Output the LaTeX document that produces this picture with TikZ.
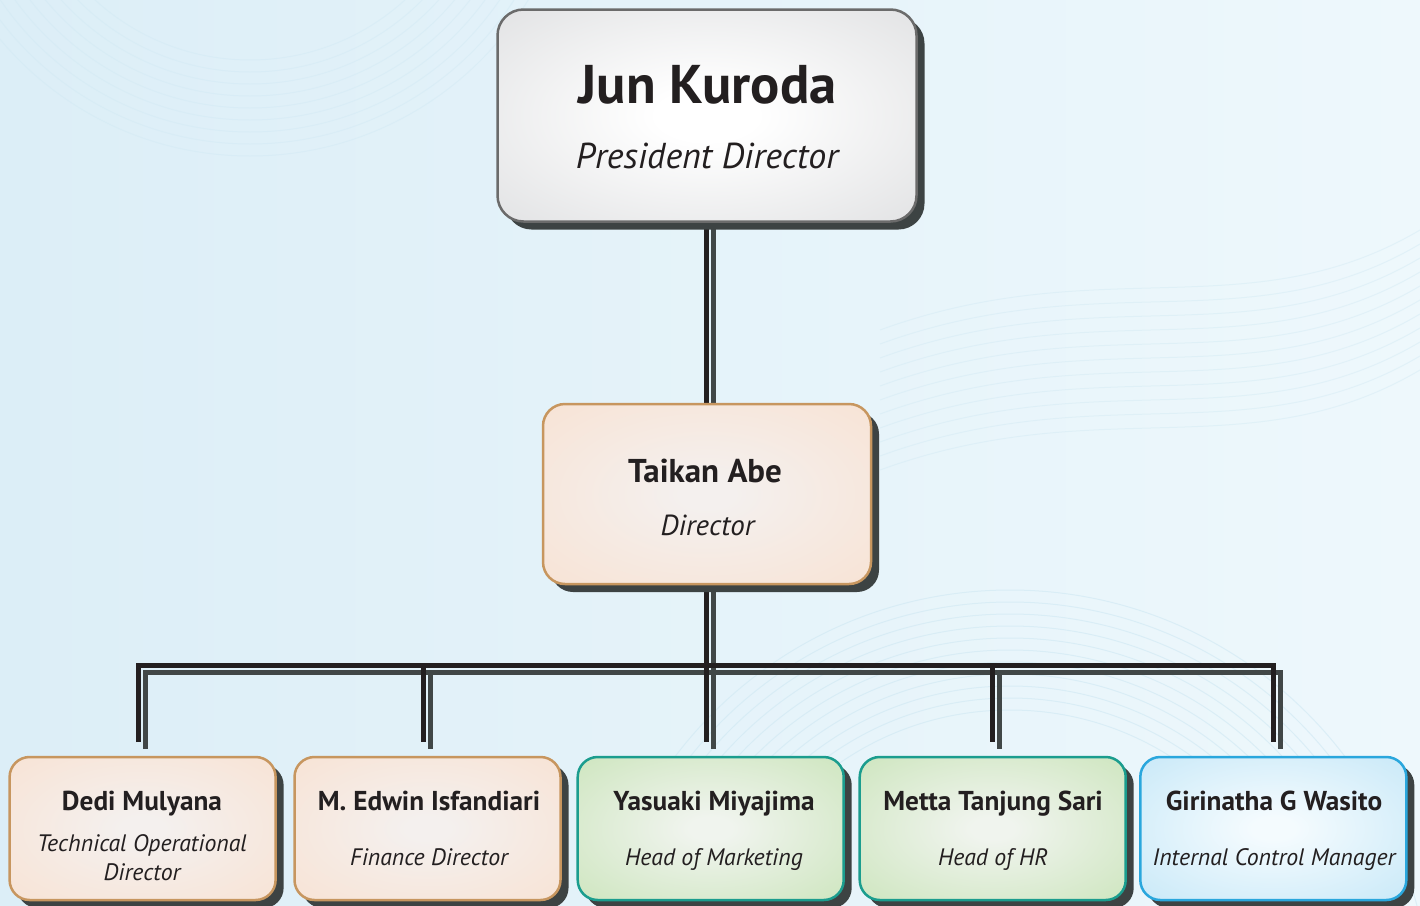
\documentclass[tikz,border=0pt]{standalone}
\usepackage{fontspec}
\setmainfont{PT Sans}
\usetikzlibrary{shadows}
\definecolor{bgL}{HTML}{DCEEF7}
\definecolor{bgR}{HTML}{EEF8FC}
\definecolor{bgline}{HTML}{CFE8F3}
\definecolor{txt}{HTML}{231F20}
\definecolor{shadowc}{HTML}{3D4343}
\definecolor{lineblack}{HTML}{231F20}
\definecolor{lineshadow}{HTML}{414747}
\definecolor{presOuter}{HTML}{D6D7D9}
\definecolor{presBorder}{HTML}{6B6B6B}
\definecolor{peachInner}{HTML}{F4F0EE}
\definecolor{peachOuter}{HTML}{F9DFCD}
\definecolor{peachBorder}{HTML}{C7965F}
\definecolor{greenInner}{HTML}{F0F4EE}
\definecolor{greenOuter}{HTML}{C3E1B0}
\definecolor{greenBorder}{HTML}{1B9D8E}
\definecolor{blueInner}{HTML}{F4FBFE}
\definecolor{blueOuter}{HTML}{BBE3F6}
\definecolor{blueBorder}{HTML}{2AA7DD}
\pgfdeclareradialshading{presS}{\pgfpoint{0bp}{0bp}}{color(0bp)=(white); color(6bp)=(white); color(48bp)=(presOuter); color(50bp)=(presOuter)}
\pgfdeclareradialshading{peachS}{\pgfpoint{0bp}{0bp}}{color(0bp)=(peachInner); color(4bp)=(peachInner); color(46bp)=(peachOuter); color(50bp)=(peachOuter)}
\pgfdeclareradialshading{greenS}{\pgfpoint{0bp}{0bp}}{color(0bp)=(greenInner); color(4bp)=(greenInner); color(46bp)=(greenOuter); color(50bp)=(greenOuter)}
\pgfdeclareradialshading{blueS}{\pgfpoint{0bp}{0bp}}{color(0bp)=(blueInner); color(4bp)=(blueInner); color(46bp)=(blueOuter); color(50bp)=(blueOuter)}
\begin{document}
\begin{tikzpicture}[x=1pt,y=-1pt,
  boxbase/.style={rounded corners=22pt, line width=2.5pt, inner sep=0pt,
    drop shadow={shadow xshift=8pt,shadow yshift=-8pt,fill=shadowc,opacity=1}},
  presbox/.style={boxbase, draw=presBorder, shading=presS,
    minimum width=419pt, minimum height=212pt, rounded corners=26pt},
  dirbox/.style={boxbase, draw=peachBorder, shading=peachS,
    minimum width=328pt, minimum height=180pt},
  subbox/.style={boxbase, minimum width=266pt, minimum height=143pt, rounded corners=20pt,
    drop shadow={shadow xshift=7pt,shadow yshift=-7pt,fill=shadowc,opacity=1}},
  peach/.style={subbox, draw=peachBorder, shading=peachS},
  green/.style={subbox, draw=greenBorder, shading=greenS},
  blue/.style={subbox, draw=blueBorder, shading=blueS},
  nameA/.style={anchor=base, text=txt, font=\fontsize{54.5}{60}\selectfont\bfseries, inner sep=0pt},
  titleA/.style={anchor=base, text=txt, font=\fontsize{36}{42}\selectfont\itshape, inner sep=0pt},
  nameB/.style={anchor=base, text=txt, font=\fontsize{33}{38}\selectfont\bfseries, inner sep=0pt},
  titleB/.style={anchor=base, text=txt, font=\fontsize{29}{32}\selectfont\itshape, inner sep=0pt},
  nameC/.style={anchor=base, text=txt, font=\fontsize{27.3}{30}\selectfont\bfseries, inner sep=0pt},
  titleC/.style={anchor=base, text=txt, font=\fontsize{23.8}{28.3}\selectfont\itshape, inner sep=0pt, align=center},
  conn/.style={line width=5pt, draw=lineblack, miter limit=10},
  connshadow/.style={line width=5pt, draw=lineshadow, transform canvas={xshift=7pt,yshift=-7pt}},
  deco/.style={draw=bgline, line width=1pt}
]
\useasboundingbox (0,0) rectangle (1420,905);
% background
\shade[left color=bgL, right color=bgR] (0,0) rectangle (1420,905);
\begin{scope}
  \clip (0,0) rectangle (1420,905);
  \foreach \r in {300,312,...,420} {\draw[deco, opacity=0.6] (1010,1010) circle (\r);}
  \foreach \r in {230,242,...,330} {\draw[deco, opacity=0.4] (250,-170) circle (\r);}
  \foreach \d in {0,14,...,140} {\draw[deco, opacity=0.4] (880,330+\d) .. controls (1100,250+\d) and (1250,330+\d) .. (1420,230+\d);}
\end{scope}

% boxes positions
\coordinate (topc) at (707,115.5);
\coordinate (midc) at (707,494);

% connector coordinates
\coordinate (j1) at (138,665);
\coordinate (j2) at (423.5,665);
\coordinate (j4) at (992.5,665);
\coordinate (j5) at (1273,665);
\coordinate (e1) at (138,742);
\coordinate (e2) at (423.5,742);
\coordinate (e3) at (706,742);
\coordinate (e4) at (992.5,742);
\coordinate (e5) at (1273,742);
\coordinate (ts) at (706,222);
\coordinate (ms) at (706,584);
\coordinate (mn) at (706,404);

% connector shadows
\draw[connshadow] (ts) -- (mn);
\draw[connshadow] (e1) -- (j1) -- (j5) -- (e5);
\draw[connshadow] (ms) -- (e3);
\draw[connshadow] (j2) -- (e2);
\draw[connshadow] (j4) -- (e4);
% connectors
\draw[conn] (ts) -- (mn);
\draw[conn] (e1) -- (j1) -- (j5) -- (e5);
\draw[conn] (ms) -- (e3);
\draw[conn] (j2) -- (e2);
\draw[conn] (j4) -- (e4);

% boxes
\node[presbox] (pres) at (topc) {};
\node[dirbox] (dir) at (midc) {};
\node[peach] (b1) at (142.6,828.5) {};
\node[peach] (b2) at (427.5,828.5) {};
\node[green] (b3) at (710.7,828.5) {};
\node[green] (b4) at (992.7,828.5) {};
\node[blue] (b5) at (1273.3,828.5) {};

% texts
\node[nameA] (n0) at (707.5,103) {Jun Kuroda};
\node[titleA] (t0) at (707,168) {President Director};
\node[nameB] (n1) at (705,482) {Taikan Abe};
\node[titleB] (t1) at (707.5,535) {Director};
\node[nameC] (nb1) at (142,810) {Dedi Mulyana};
\node[titleC] (tb1) at (142,880) {Technical Operational\\Director};
\node[nameC] (nb2) at (429,810) {M. Edwin Isfandiari};
\node[titleC] (tb2) at (429,865) {Finance Director};
\node[nameC] (nb3) at (714,810) {Yasuaki Miyajima};
\node[titleC] (tb3) at (714,865) {Head of Marketing};
\node[nameC] (nb4) at (993,810) {Metta Tanjung Sari};
\node[titleC] (tb4) at (993,865) {Head of HR};
\node[nameC] (nb5) at (1274,810) {Girinatha G Wasito};
\node[titleC] (tb5) at (1274,865) {Internal Control Manager};
\end{tikzpicture}
\end{document}
